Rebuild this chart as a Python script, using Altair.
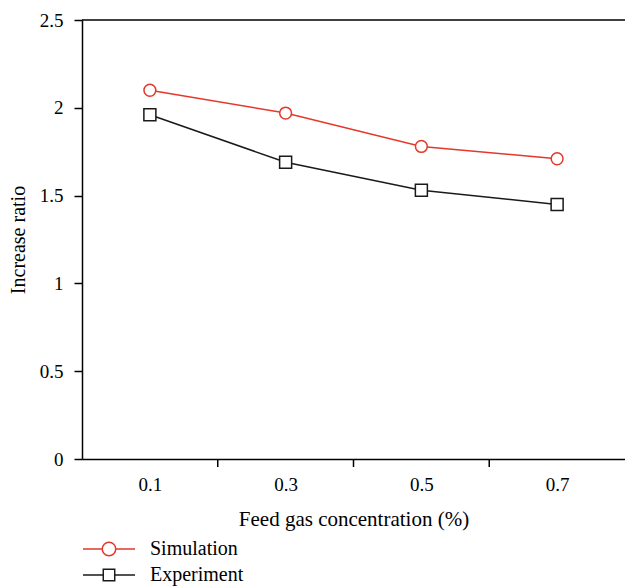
import altair as alt
import pandas as pd

# ---- data ----
concentration = [0.1, 0.3, 0.5, 0.7]
simulation = [2.10, 1.97, 1.78, 1.71]
experiment = [1.96, 1.69, 1.53, 1.45]
series_names = ["Simulation", "Experiment"]
series_colors = ["#e4382b", "#1a1a1a"]
x_boundaries = [0.2, 0.4, 0.6]
y_tick_values = [0, 0.5, 1, 1.5, 2, 2.5]

rows = []
for c, s, e in zip(concentration, simulation, experiment):
    rows.append({"conc": c, "series": "Simulation", "value": s})
    rows.append({"conc": c, "series": "Experiment", "value": e})
df = pd.DataFrame(rows)
bounds_df = pd.DataFrame({"conc": x_boundaries})
one_df = pd.DataFrame({"k": [0]})

W, H = 543, 439
FONT = "Liberation Serif"

x_scale = alt.Scale(domain=[0, 0.8], nice=False, zero=False)
y_scale = alt.Scale(domain=[0, 2.5], nice=False, zero=True)
color_scale = alt.Scale(domain=series_names, range=series_colors)

x_axis = alt.Axis(
    values=concentration, format="~g", ticks=False, tickSize=0,
    labelPadding=16, title="Feed gas concentration (%)", titlePadding=14,
    grid=False, domainColor="black", domainWidth=1.5,
    labelFont=FONT, labelFontSize=19, labelColor="black",
    titleFont=FONT, titleFontSize=21, titleFontWeight="normal", titleColor="black",
)
y_axis = alt.Axis(
    values=y_tick_values, format="~g", tickSize=8, tickColor="black", tickWidth=1.5,
    labelPadding=11, grid=False, domainColor="black", domainWidth=1.5,
    labelFont=FONT, labelFontSize=19, labelColor="black",
    title="Increase ratio", titleFont=FONT, titleFontSize=20,
    titleFontWeight="normal", titleColor="black",
    titleX=-64, titleY=H / 2, titleAngle=270, titleAlign="center", titleBaseline="middle",
)

circ_path = "M-1,0H-0.26M0.26,0H1M0.26,0A0.26,0.26,0,1,1,-0.26,0A0.26,0.26,0,1,1,0.26,0Z"
sq_path = "M-1,0H-0.22M0.22,0H1M-0.22,-0.22H0.22V0.22H-0.22Z"

leg = alt.Legend(
    title=None, orient="none", legendX=0, legendY=519, direction="vertical",
    symbolSize=2704, symbolStrokeWidth=1.5, labelFont=FONT, labelFontSize=20,
    labelColor="black", labelOffset=14, clipHeight=20, rowPadding=6, padding=0,
)

x_enc = alt.X("conc:Q", scale=x_scale, axis=x_axis)
y_enc = alt.Y("value:Q", scale=y_scale, axis=y_axis)
stroke_enc = alt.Stroke("series:N", scale=color_scale, legend=leg)

lines = alt.Chart(df).mark_line(strokeWidth=1.5).encode(
    x=x_enc, y=y_enc, stroke=stroke_enc, order=alt.Order("conc:Q"),
)

x_ticks = alt.Chart(bounds_df).mark_rule(color="black", strokeWidth=1.5).encode(
    x=x_enc, y=alt.value(H), y2=alt.value(H + 8),
)

top_border = alt.Chart(one_df).mark_rule(color="black", strokeWidth=1.5).encode(
    x=alt.value(0), x2=alt.value(W), y=alt.value(0),
)

sim_pts = alt.Chart(df).transform_filter(alt.datum.series == "Simulation").mark_point(
    shape="circle", size=140, filled=False, fill="white", fillOpacity=1,
    strokeWidth=1.5, opacity=1,
).encode(x=x_enc, y=y_enc, stroke=stroke_enc)

exp_pts = alt.Chart(df).transform_filter(alt.datum.series == "Experiment").mark_point(
    shape="square", size=144, filled=False, fill="white", fillOpacity=1,
    strokeWidth=1.5, opacity=1,
).encode(x=x_enc, y=y_enc, stroke=stroke_enc)

legend_layer = alt.Chart(df).transform_filter("false").mark_point(
    filled=False, strokeWidth=1.5, opacity=1
).encode(
    x=x_enc, y=y_enc, stroke=stroke_enc,
    shape=alt.Shape("series:N", scale=alt.Scale(domain=series_names, range=[circ_path, sq_path]), legend=leg),
)

chart = alt.layer(lines, x_ticks, top_border, sim_pts, exp_pts, legend_layer).properties(
    width=W, height=H,
    padding={"left": 82, "top": 20, "right": 0, "bottom": 127},
    autosize="none", background="white",
).configure_view(stroke=None)

chart.save("out.html", embed_options={"renderer": "svg", "actions": False})
